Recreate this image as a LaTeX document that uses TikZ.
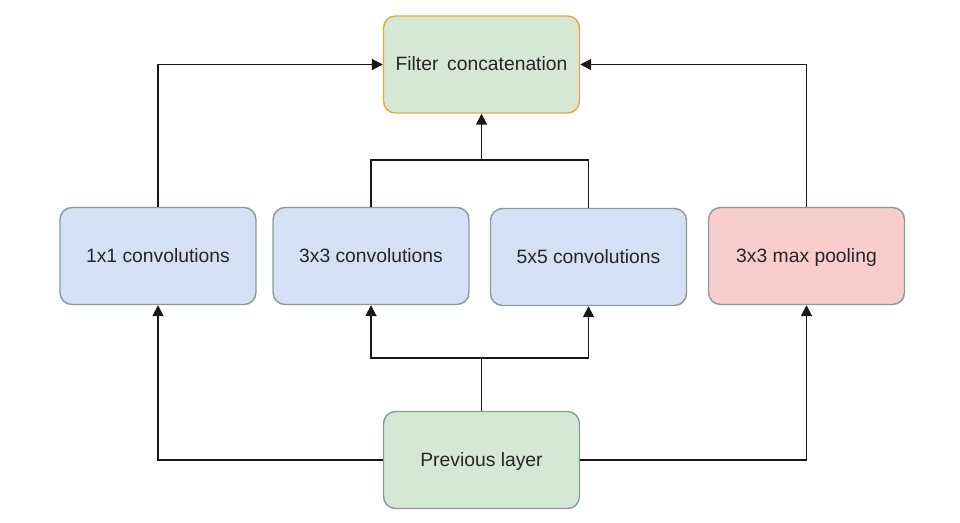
\documentclass[tikz,border=0pt]{standalone}
\usepackage{fontspec}
\setmainfont{Liberation Sans}
\usetikzlibrary{arrows.meta}
\definecolor{bluefill}{HTML}{D4E1F5}
\definecolor{pinkfill}{HTML}{F8CECC}
\definecolor{greenfill}{HTML}{D5E8D4}
\definecolor{boxline}{HTML}{8A9A9A}
\definecolor{orangeline}{HTML}{E8A93C}
\begin{document}
\begin{tikzpicture}[x=1pt,y=-1pt,
  box/.style={draw=boxline,line width=1.4pt,rounded corners=12pt,minimum width=196pt,minimum height=97pt,inner sep=0pt,font=\fontsize{19.3}{22}\selectfont,text=black!85,text height=14pt,text depth=2pt},
  conn/.style={draw=black!90,line width=1.8pt},
  arr/.style={conn,-{Triangle[length=11pt,width=11pt]}}]
\useasboundingbox (0,0) rectangle (960,522);
\node[box,fill=greenfill,draw=orangeline] (fc) at (481.5,64.5) {Filter\hspace{0.45em}concatenation};
\node[box,fill=bluefill] (c1) at (158,256) {1x1 convolutions};
\node[box,fill=bluefill] (c3) at (371,256) {3x3 convolutions};
\node[box,fill=bluefill] (c5) at (588.5,257) {5x5 convolutions};
\node[box,fill=pinkfill] (mp) at (806.5,256) {3x3 max pooling};
\node[box,fill=greenfill] (pl) at (481.5,460) {Previous layer};
\coordinate (tj) at (481.5,160);
\coordinate (bj) at (481.5,358);
% top connections
\draw[arr] (c1.north) |- (fc.west);
\draw[arr] (mp.north) |- (fc.east);
\draw[conn] (c3.north) |- (tj) -| (c5.north);
\draw[arr] (tj) -- (fc.south);
% bottom connections
\draw[arr] (pl.west) -| (c1.south);
\draw[arr] (pl.east) -| (mp.south);
\draw[conn] (pl.north) -- (bj);
\draw[arr] (bj) -| (c3.south);
\draw[arr] (bj) -| (c5.south);
\end{tikzpicture}
\end{document}
